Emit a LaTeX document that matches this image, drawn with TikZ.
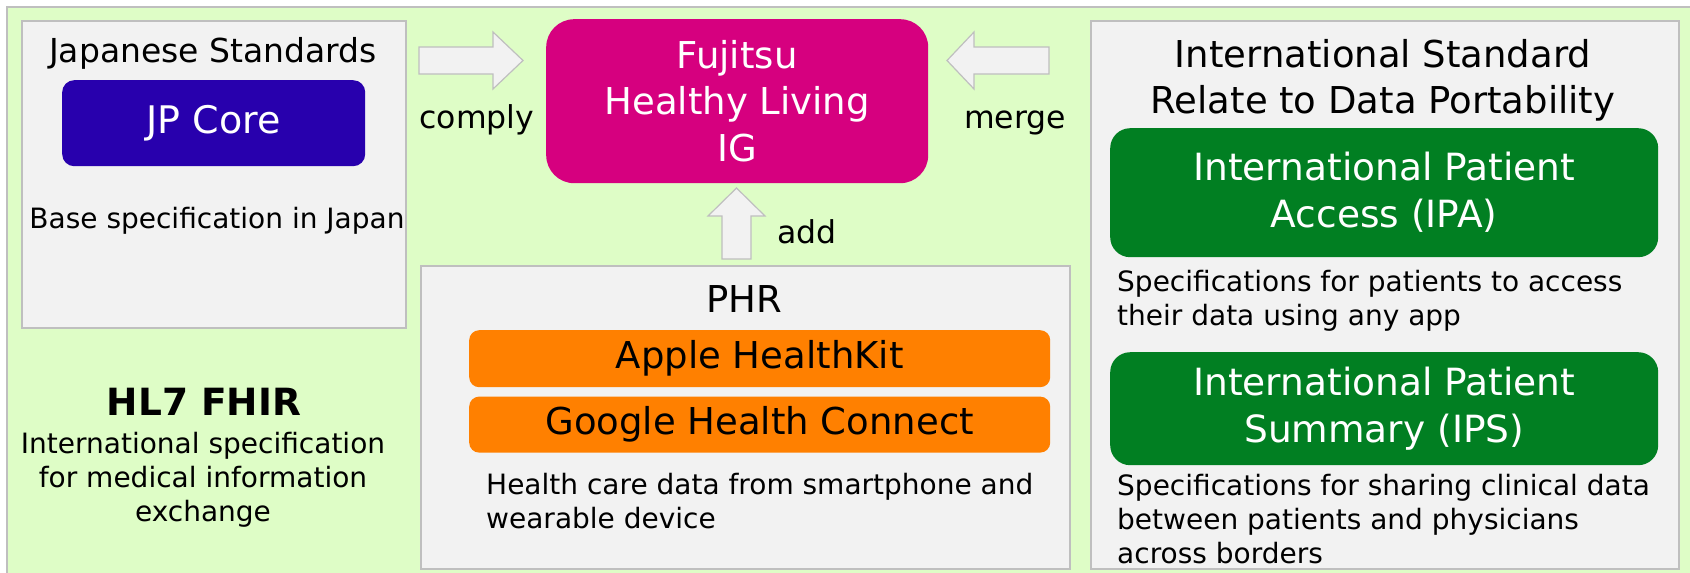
\documentclass[tikz,border=0pt]{standalone}
\usepackage{fontspec}
\setmainfont{DejaVu Sans}
\usepackage{tikz}
\usetikzlibrary{positioning}
\definecolor{bggreen}{HTML}{DEFDC6}
\definecolor{panelgray}{HTML}{F2F2F2}
\definecolor{panelline}{HTML}{BFBFBF}
\definecolor{jpblue}{HTML}{2800AD}
\definecolor{fjpink}{HTML}{D6007F}
\definecolor{phrorange}{HTML}{FF8000}
\definecolor{ipgreen}{HTML}{017F22}
\tikzset{
  panel/.style={rectangle, draw=panelline, fill=panelgray, line width=1.5pt, inner sep=0pt, anchor=north west},
  jpbox/.style={rectangle, rounded corners=12pt, fill=jpblue, text=white, inner sep=0pt, anchor=north west, minimum width=303pt, minimum height=86pt, font=\fontsize{38}{46}\selectfont},
  igbox/.style={rectangle, rounded corners=28pt, fill=fjpink, text=white, inner sep=0pt, anchor=north west, align=center, minimum width=382pt, minimum height=164pt, font=\fontsize{37}{46.5}\selectfont},
  appbox/.style={rectangle, rounded corners=10pt, fill=phrorange, inner sep=0pt, anchor=north west, minimum width=581pt, minimum height=57pt, font=\fontsize{37}{44}\selectfont},
  ipbox/.style={rectangle, rounded corners=20pt, fill=ipgreen, text=white, inner sep=0pt, anchor=north west, minimum width=548pt, align=center, font=\fontsize{37.5}{47}\selectfont},
  txt/.style={inner sep=0pt, anchor=base, align=center, font=\fontsize{28}{34}\selectfont},
  ttl/.style={inner sep=0pt, anchor=base, align=center, font=\fontsize{37}{45.5}\selectfont},
  lbl/.style={inner sep=0pt, anchor=base, font=\fontsize{31.5}{38}\selectfont},
  blockarrow/.style={draw=panelline, fill=panelgray, line width=1.2pt}
}

\begin{document}
\begin{tikzpicture}[x=1pt, y=-1pt]
    \useasboundingbox (0,0) rectangle (1690,573);
    \draw [draw=panelline, fill=bggreen, line width=1.5pt] (7,7) rectangle (1700,590);

    \node [panel, minimum width=384pt, minimum height=307pt] (jpstd) at (21,20) {};
    \node [txt, font=\fontsize{33}{40}\selectfont] (jptitle) at (213,62) {Japanese Standards};
    \node [jpbox] (jpcore) at (62,80) {JP Core};
    \node [txt] (jpbase) at (217,228) {Base specification in Japan};
    \node [txt, font=\bfseries\fontsize{37.5}{44}\selectfont] (fhir) at (204,415) {HL7 FHIR};
    \node [txt] (fhirspec) at (203,521) {International specification\\for medical information\\exchange};

    \node [igbox] (fhl) at (546,19) {Fujitsu\\Healthy Living\\IG};

    \node [panel, minimum width=649pt, minimum height=303pt] (phr) at (420,265) {};
    \node [ttl] (phrtitle) at (744,312) {PHR};
    \node [appbox] (apple) at (469,330) {Apple HealthKit};
    \node [appbox, below=9pt of apple.south west, anchor=north west, minimum height=56pt] (google) {Google Health Connect};
    \node [txt, anchor=base west, align=left] (phrspec) at (486,528) {Health care data from smartphone and\\wearable device};

    \node [panel, minimum width=588pt, minimum height=548pt] (intl) at (1090,20) {};
    \node [ttl] (intltitle) at (1383,113) {International Standard\\Relate to Data Portability};
    \node [ipbox, minimum height=129pt] (ipa) at (1110,128) {International Patient\\Access (IPA)};
    \node [txt, anchor=base west, align=left] (ipaspec) at (1117,325) {Specifications for patients to access\\their data using any app};
    \node [ipbox, minimum height=113pt] (ips) at (1110,352) {International Patient\\Summary (IPS)};
    \node [txt, anchor=base west, align=left] (ipsspec) at (1117,563) {Specifications for sharing clinical data\\between patients and physicians\\across borders};

    \draw [blockarrow] (419,47) -- (493,47) -- (493,32) -- (523,60.5) -- (493,89) -- (493,74) -- (419,74) -- cycle;
    \draw [blockarrow] (1049,47) -- (974,47) -- (974,32) -- (947,60.5) -- (974,89) -- (974,74) -- (1049,74) -- cycle;
    \draw [blockarrow] (722,259) -- (722,216) -- (708,216) -- (736.5,188) -- (765,216) -- (751,216) -- (751,259) -- cycle;
    \node [lbl] (complylbl) at (477,128) {comply};
    \node [lbl] (mergelbl) at (1015,128) {merge};
    \node [lbl] (addlbl) at (807,243) {add};
\end{tikzpicture}
\end{document}
